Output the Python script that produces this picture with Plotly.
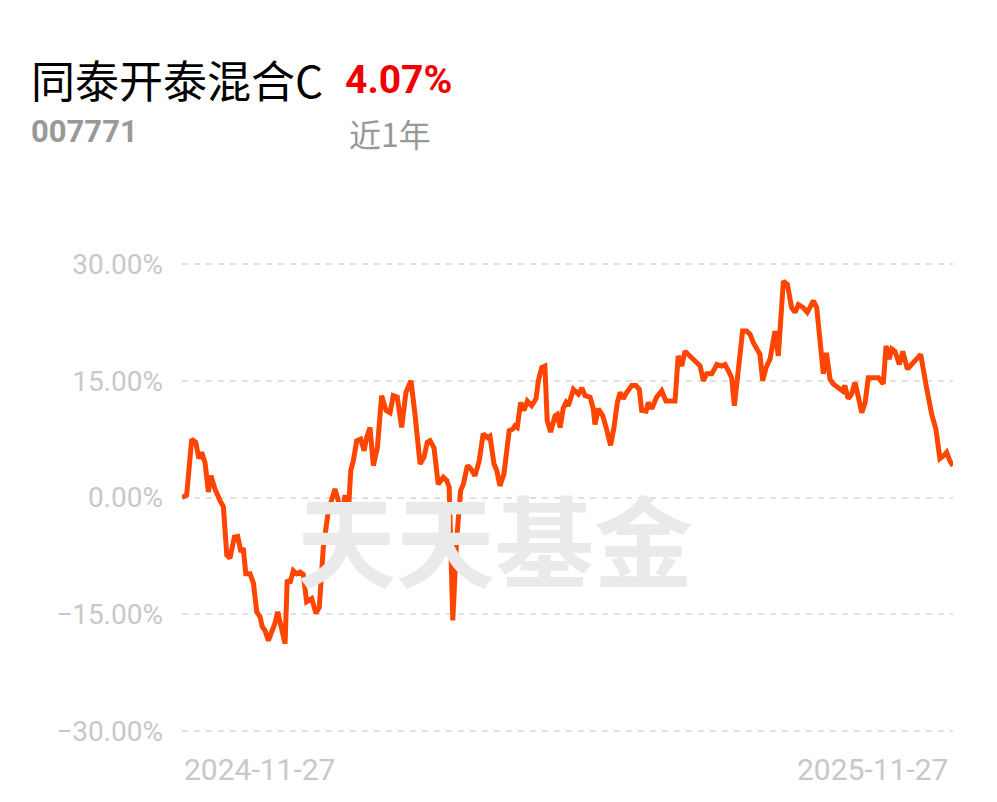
import pandas as pd
import plotly.graph_objects as go

# ---- data ----
fund_name = "同泰开泰混合C"
fund_code = "007771"
period_return = "4.07%"
period_label = "近1年"
watermark = "天天基金"
start_date = "2024-11-27"
end_date = "2025-11-27"
x_tick_labels = ["2024-11-27", "2025-11-27"]
y_tick_values = [-30, -15, 0, 15, 30]
y_tick_labels = ["−30.00%", "−15.00%", "0.00%", "15.00%", "30.00%"]

# days elapsed since start_date
day_offsets = [
    0.0, 2.2, 4.6, 6.5, 8.0, 9.3, 10.9, 12.5, 13.7, 15.6,
    18.0, 19.6, 21.2, 22.7, 24.8, 26.4, 27.9, 29.0, 30.2, 32.2,
    33.8, 35.4, 36.9, 38.0, 39.3, 40.9, 42.7, 44.0, 45.3, 46.9,
    48.8, 49.8, 51.1, 52.7, 54.3, 55.9, 57.4, 59.0, 61.4, 63.4,
    65.0, 66.9, 69.3, 72.4, 74.8, 76.1, 77.2, 78.7, 79.9, 81.1,
    82.7, 84.6, 86.2, 87.4, 89.0, 90.6, 92.5, 94.5, 96.6, 98.5,
    100.0, 101.9, 104.0, 106.0, 108.4, 110.3, 112.7, 114.6, 116.1, 117.4,
    119.3, 121.3, 123.7, 125.3, 126.5, 128.2, 130.0, 131.9, 133.2, 135.1,
    136.7, 138.7, 140.7, 142.6, 144.5, 145.8, 147.7, 149.0, 150.5, 152.4,
    154.9, 156.6, 157.6, 158.7, 160.3, 161.9, 163.5, 165.5, 167.6, 168.7,
    170.3, 171.8, 172.9, 174.5, 176.6, 177.7, 179.0, 180.5, 181.8, 182.9,
    185.3, 187.7, 189.3, 190.8, 193.2, 194.7, 195.5, 197.1, 199.2, 201.0,
    202.9, 204.5, 206.1, 207.4, 208.9, 210.5, 212.9, 214.9, 216.5, 217.6,
    219.7, 220.7, 222.4, 224.7, 227.1, 229.1, 231.0, 233.4, 234.9, 236.6,
    238.1, 239.7, 242.1, 243.7, 245.3, 246.8, 248.4, 250.8, 253.2, 255.5,
    257.1, 258.6, 260.2, 261.5, 263.4, 265.4, 267.3, 268.9, 270.5, 272.8,
    273.6, 274.9, 276.5, 278.4, 280.7, 282.3, 284.7, 286.6, 288.6, 290.2,
    291.8, 294.1, 296.0, 297.6, 298.9, 300.5, 302.0, 303.6, 305.1, 306.8,
    308.3, 310.7, 312.8, 313.8, 315.4, 317.0, 318.6, 320.2, 321.8, 323.4,
    324.9, 327.3, 329.7, 332.0, 333.3, 334.8, 336.0, 337.5, 339.6, 341.2,
    343.4, 345.4, 347.8, 349.7, 352.5, 354.9, 356.9, 358.8, 360.7, 362.0,
    363.5, 365.0,
]

# cumulative return, %
returns_pct = [
    0.0, 0.3, 7.5, 7.1, 5.0, 5.8, 4.5, 0.7, 2.8, 1.1,
    -0.4, -1.2, -7.4, -7.8, -5.1, -5.0, -7.0, -6.5, -9.8, -9.8,
    -11.0, -14.7, -15.3, -16.6, -17.1, -18.4, -17.1, -16.2, -14.7, -16.6,
    -18.8, -10.6, -11.0, -9.4, -9.8, -9.6, -9.9, -13.4, -13.0, -14.9,
    -14.1, -6.4, -1.7, 1.1, -1.2, -1.7, 0.3, -2.1, 3.5, 4.7,
    7.3, 7.5, 6.0, 7.7, 9.0, 4.1, 6.4, 13.1, 11.2, 10.9,
    13.1, 12.9, 9.0, 13.5, 15.0, 10.7, 4.3, 5.2, 7.1, 7.3,
    6.4, 1.7, 2.6, 2.2, 1.3, -15.8, -5.5, 0.9, 1.7, 4.1,
    3.7, 2.8, 4.7, 8.2, 7.7, 7.9, 4.3, 3.5, 1.5, 3.0,
    8.6, 8.8, 9.2, 9.0, 12.2, 11.2, 12.4, 11.8, 12.7, 15.0,
    16.7, 16.9, 9.9, 8.4, 10.5, 10.7, 9.0, 11.5, 12.2, 11.8,
    13.9, 13.3, 14.1, 13.1, 12.9, 11.4, 9.4, 11.4, 10.5, 8.8,
    6.7, 9.0, 12.2, 13.5, 12.7, 13.5, 14.4, 14.4, 13.9, 11.2,
    11.1, 12.2, 11.4, 12.9, 13.7, 12.4, 12.4, 12.4, 18.2, 16.9,
    18.8, 18.4, 17.8, 17.3, 16.9, 15.0, 15.9, 15.9, 17.1, 16.9,
    17.1, 16.3, 15.4, 11.8, 16.3, 21.4, 21.4, 21.0, 19.9, 18.8,
    18.4, 15.0, 16.7, 17.8, 21.4, 18.2, 27.8, 27.4, 24.4, 23.8,
    24.8, 24.4, 23.8, 24.6, 25.3, 24.4, 20.8, 15.9, 18.6, 15.2,
    14.6, 14.1, 13.7, 14.4, 12.7, 13.3, 14.8, 12.9, 10.9, 12.2,
    15.4, 15.4, 15.4, 14.6, 19.5, 17.8, 19.1, 18.8, 17.1, 18.8,
    16.5, 17.1, 17.8, 18.4, 14.1, 10.7, 8.8, 5.0, 5.4, 5.8,
    4.7, 4.07,
]

dates = pd.Timestamp(start_date) + pd.to_timedelta(day_offsets, unit="D")

fig = go.Figure()
fig.add_trace(go.Scatter(
    x=dates, y=returns_pct, mode="lines",
    line=dict(color="#FF4500", width=5, shape="linear"),
    hoverinfo="skip", showlegend=False,
))

grid_col = "#E0E0E0"
tick_col = "#C8C8C8"

fig.update_layout(
    width=981, height=786,
    margin=dict(l=174, r=36, t=255, b=62, pad=0),
    paper_bgcolor="white", plot_bgcolor="white",
    font=dict(family="Roboto, 'Noto Sans CJK SC', sans-serif"),
    xaxis=dict(
        range=[pd.Timestamp(start_date), pd.Timestamp(end_date)],
        showgrid=False, zeroline=False, showline=False,
        showticklabels=False, ticks="",
    ),
    yaxis=dict(
        range=[-30.15, 30.15],
        tickvals=y_tick_values, ticktext=y_tick_labels,
        showgrid=True, gridcolor=grid_col, gridwidth=1.5, griddash="6px,6px",
        zeroline=False, showline=False, ticks="",
        tickfont=dict(family="Roboto", size=28, color=tick_col),
        ticklabelstandoff=18,
    ),
)

annotations = [
    dict(text=watermark, x=0.406, y=0.416, xref="paper", yref="paper",
         xanchor="center", yanchor="middle", showarrow=False,
         font=dict(family="Noto Sans CJK SC", size=99, color="#EAEAEA", weight="bold")),
    dict(text=fund_name, x=-0.199, y=1.392, xref="paper", yref="paper",
         xanchor="left", yanchor="middle", showarrow=False,
         font=dict(family="Noto Sans CJK SC", size=44, color="#000000")),
    dict(text=f"<b>{period_return}</b>", x=0.2090, y=1.390, xref="paper", yref="paper",
         xanchor="left", yanchor="middle", showarrow=False,
         font=dict(family="Roboto", size=39, color="#F00000")),
    dict(text=f"<b>{fund_code}</b>", x=-0.199, y=1.281, xref="paper", yref="paper",
         xanchor="left", yanchor="middle", showarrow=False,
         font=dict(family="Roboto", size=31, color="#999999")),
    dict(text=period_label, x=0.214, y=1.277, xref="paper", yref="paper",
         xanchor="left", yanchor="middle", showarrow=False,
         font=dict(family="Noto Sans CJK SC", size=32, color="#999999")),
    dict(text=x_tick_labels[0], x=0.0, y=-0.079, xref="paper", yref="paper",
         xanchor="left", yanchor="middle", showarrow=False,
         font=dict(family="Roboto", size=30, color=tick_col)),
    dict(text=x_tick_labels[1], x=0.996, y=-0.079, xref="paper", yref="paper",
         xanchor="right", yanchor="middle", showarrow=False,
         font=dict(family="Roboto", size=30, color=tick_col)),
]
fig.update_layout(annotations=annotations)

fig.write_html("out.html")
